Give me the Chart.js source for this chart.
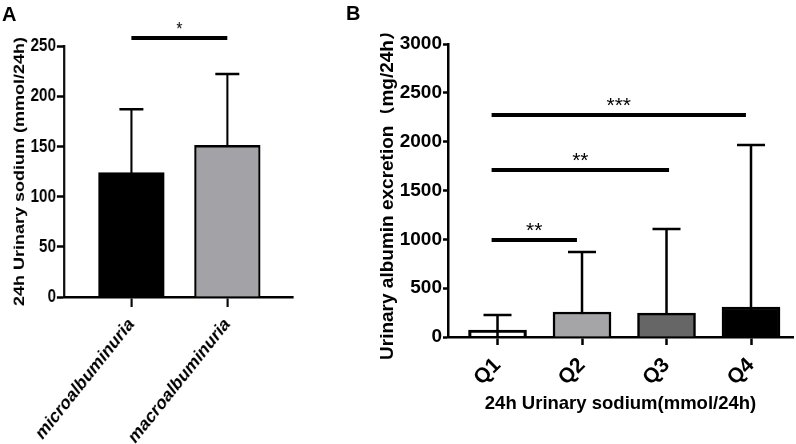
<!DOCTYPE html>
<html>
<head>
<meta charset="utf-8">
<script src="https://cdn.jsdelivr.net/npm/chart.js@4.4.1/dist/chart.umd.min.js"></script>
<style>
body { margin: 0; background: #fff; width: 796px; height: 444px; overflow: hidden; position: relative; font-family: "Liberation Sans", Arial, sans-serif; }
#boxA { position: absolute; left: 0; top: 0; width: 475px; height: 444px; transform: scaleX(0.8); transform-origin: 0 0; }
#boxB { position: absolute; left: 380px; top: 0; width: 416px; height: 444px; }
.tag { position: absolute; font-weight: bold; font-size: 20px; line-height: 20px; }
</style>
</head>
<body>
<div id="boxA"><canvas id="chartA"></canvas></div>
<div id="boxB"><canvas id="chartB"></canvas></div>
<div class="tag" style="left:2px;top:4px">A</div>
<div class="tag" style="left:346px;top:3px">B</div>
<script>
// panel A
const groupsA = ['microalbuminuria', 'macroalbuminuria'];
const meanA = [124, 151];
const upperA = [187, 222];
const ticksA = [0, 50, 100, 150, 200, 250];
const sigFromA = [0];
const sigToA = [1];
const sigLevelA = [258];
const sigTextA = ['*'];

// panel B
const quartiles = ['Q1', 'Q2', 'Q3', 'Q4'];
const meanB = [72, 256, 245, 307];
const upperB = [225, 870, 1105, 1966];
const ticksB = [0, 500, 1000, 1500, 2000, 2500, 3000];
const sigFromB = [-0.07, -0.07, -0.07];
const sigToB = [0.94, 2.03, 2.94];
const sigLevelB = [993, 1710, 2273];
const sigTextB = ['**', '**', '***'];

Chart.defaults.font.family = '"Liberation Sans", "Noto Sans CJK SC", Arial, sans-serif';
Chart.defaults.color = '#000';

// mean + upper SD whisker, drawn under the bars
const errorBars = {
    id: 'errorBars',
    beforeDatasetsDraw(chart, args, opts) {
        const { ctx, scales: { y } } = chart;
        const meta = chart.getDatasetMeta(0);
        const base = y.getPixelForValue(0);
        ctx.save();
        ctx.strokeStyle = '#000';
        ctx.lineWidth = opts.width;
        meta.data.forEach((bar, i) => {
            const top = y.getPixelForValue(opts.upper[i]);
            ctx.beginPath();
            ctx.moveTo(bar.x, base);
            ctx.lineTo(bar.x, top);
            ctx.moveTo(bar.x - opts.cap, top);
            ctx.lineTo(bar.x + opts.cap, top);
            ctx.stroke();
        });
        ctx.restore();
    }
};

// significance lines with stars
const brackets = {
    id: 'brackets',
    afterDraw(chart, args, opts) {
        const { ctx, scales: { x, y } } = chart;
        ctx.save();
        ctx.strokeStyle = '#000';
        ctx.fillStyle = '#000';
        ctx.lineWidth = opts.width;
        ctx.font = opts.font;
        ctx.textAlign = 'center';
        ctx.textBaseline = 'alphabetic';
        opts.from.forEach((f, i) => {
            const x1 = x.getPixelForValue(f);
            const x2 = x.getPixelForValue(opts.to[i]);
            const py = y.getPixelForValue(opts.level[i]);
            ctx.beginPath();
            ctx.moveTo(x1, py);
            ctx.lineTo(x2, py);
            ctx.stroke();
            ctx.fillText(opts.text[i], (x1 + x2) / 2, py - opts.gap);
        });
        ctx.restore();
    }
};

function makeChart(id, cfg) {
    return new Chart(document.getElementById(id), {
        type: 'bar',
        data: {
            datasets: [{
                data: cfg.means.map((v, i) => ({ x: i, y: v })),
                backgroundColor: cfg.colors,
                borderColor: '#000',
                borderWidth: 2.5,
                borderSkipped: 'start',
                barThickness: cfg.barWidth
            }]
        },
        options: {
            responsive: true,
            maintainAspectRatio: false,
            animation: false,
            layout: { padding: { top: cfg.top, right: cfg.right, left: 0, bottom: 0 } },
            plugins: {
                legend: { display: false },
                tooltip: { enabled: false },
                errorBars: { upper: cfg.upper, cap: cfg.cap, width: 2.5 },
                brackets: cfg.brackets
            },
            scales: {
                x: {
                    type: 'linear',
                    offset: false,
                    min: cfg.xmin,
                    max: cfg.xmax,
                    afterBuildTicks: s => { s.ticks = cfg.labels.map((c, i) => ({ value: i })); },
                    afterFit: s => { s.height = cfg.xHeight; },
                    border: { display: true, color: '#000', width: 2.5 },
                    grid: { offset: false, drawOnChartArea: false, drawTicks: true, tickLength: cfg.xTick, tickWidth: 2.5, tickColor: '#000' },
                    ticks: {
                        callback: v => cfg.labels[v],
                        minRotation: 45,
                        maxRotation: 45,
                        padding: cfg.xPad,
                        font: { size: cfg.xFont, weight: 'bold' }
                    },
                    title: cfg.xTitle
                },
                y: {
                    min: 0,
                    max: cfg.ticks[cfg.ticks.length - 1],
                    afterBuildTicks: s => { s.ticks = cfg.ticks.map(v => ({ value: v })); },
                    afterFit: s => { s.width = cfg.yWidth; },
                    border: { display: true, color: '#000', width: 2.5 },
                    grid: { drawOnChartArea: false, drawTicks: true, tickLength: cfg.yTick, tickWidth: 2.5, tickColor: '#000' },
                    ticks: { padding: 1, callback: v => String(v), font: { size: 19, weight: 'bold' } },
                    title: {
                        display: true,
                        text: cfg.yTitle,
                        font: { size: cfg.yTitleSize, weight: 'bold', lineHeight: 1 },
                        padding: { top: cfg.yTitlePad, bottom: 0 }
                    }
                }
            }
        },
        plugins: [errorBars, brackets]
    });
}

makeChart('chartA', {
    means: meanA, upper: upperA, labels: groupsA, ticks: ticksA,
    colors: ['#000000', '#a3a2a7'],
    barWidth: 82, cap: 15,
    xmin: -0.703, xmax: 1.682,
    top: 46, right: 109, xHeight: 147, yWidth: 80,
    xTick: 10, yTick: 9, xFont: 19.5, xPad: 6,
    xTitle: { display: false },
    yTitle: '24h Urinary sodium (mmol/24h)', yTitleSize: 18, yTitlePad: 16,
    brackets: { from: sigFromA, to: sigToA, level: sigLevelA, text: sigTextA, width: 4, font: '19px "Liberation Sans"', gap: 3 }
});

makeChart('chartB', {
    means: meanB, upper: upperB, labels: quartiles, ticks: ticksB,
    colors: ['rgba(255,255,255,0)', '#a5a5a8', '#666666', '#000000'],
    barWidth: 58, cap: 14,
    xmin: -0.586, xmax: 3.497,
    top: 44, right: 3, xHeight: 107, yWidth: 68,
    xTick: 8, yTick: 5, xFont: 21, xPad: 8,
    xTitle: {
        display: true,
        text: '24h Urinary sodium(mmol/24h)',
        font: { size: 18.5, weight: 'bold', lineHeight: 1 },
        padding: { top: 0, bottom: 31 }
    },
    yTitle: 'Urinary albumin excretion（mg/24h）', yTitleSize: 19, yTitlePad: -1.5,
    brackets: { from: sigFromB, to: sigToB, level: sigLevelB, text: sigTextB, width: 4, font: '21px "Liberation Sans"', gap: 3 }
});
</script>
</body>
</html>
